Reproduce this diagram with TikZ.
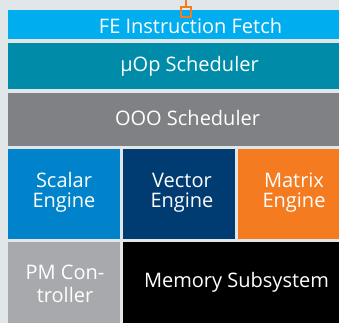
\documentclass[tikz,border=0pt]{standalone}
\usepackage{fontspec}
\setmainfont{Open Sans}
\definecolor{bgc}{HTML}{E1E6E9}
\definecolor{fec}{HTML}{00AEEF}
\definecolor{uopc}{HTML}{008CA8}
\definecolor{oooc}{HTML}{808184}
\definecolor{scalc}{HTML}{0083CA}
\definecolor{vecc}{HTML}{003C71}
\definecolor{matc}{HTML}{F47B20}
\definecolor{pmc}{HTML}{A7A9AC}
\definecolor{orc}{HTML}{F47B20}
\tikzset{
  blk/.style={draw=none, inner sep=0pt, outer sep=0pt},
  txt/.style={inner sep=0pt, text=white, align=center, anchor=base,
    font=\fontsize{20}{20.5}\selectfont},
}
\begin{document}
\begin{tikzpicture}[x=1pt,y=-1pt]
\useasboundingbox (0,0) rectangle (339,322);
\clip (0,0) rectangle (339,322);
\fill[bgc] (-1,-1) rectangle (340,323);
% blocks
\node[blk, fill=fec, minimum width=362pt, minimum height=29.3pt] (fe) at (189,24.65) {};
\node[blk, fill=uopc, minimum width=362pt, minimum height=46.6pt] (uop) at (189,66) {};
\node[blk, fill=oooc, minimum width=362pt, minimum height=52.6pt] (ooo) at (189,119.3) {};
\node[blk, fill=scalc, minimum width=112pt, minimum height=89.7pt] (scal) at (64,193.85) {};
\node[blk, fill=vecc, minimum width=112pt, minimum height=89.7pt] (vec) at (179,193.85) {};
\node[blk, fill=matc, minimum width=112pt, minimum height=89.7pt] (mat) at (294,193.85) {};
\node[blk, fill=pmc, minimum width=112pt, minimum height=82pt] (pm) at (64,283) {};
\node[blk, fill=black, minimum width=227pt, minimum height=82pt] (mem) at (236.5,283) {};
% texts
\node[txt] (tfe) at (190.5,33.6) {FE Instruction Fetch};
\node[txt] (tuop) at (189.5,71.2) {µOp Scheduler};
\node[txt] (tooo) at (187.5,125) {OOO Scheduler};
\node[txt] (tscal) at (64,207.5) {Scalar\\Engine};
\node[txt] (tvec) at (182,207.5) {Vector\\Engine};
\node[txt] (tmat) at (294,207.5) {Matrix\\Engine};
\node[txt, font=\fontsize{20}{23}\selectfont] (tpm) at (65,302.3) {PM Con-\\troller};
\node[txt] (tmem) at (236.5,287.3) {Memory Subsystem};
% probe
\node[draw=orc, line width=2pt, minimum size=10pt, inner sep=0pt] (sq) at (185.5,11.5) {};
\coordinate (top) at (186,-1);
\draw[orc, line width=2pt] (top) -- (sq.north -| top);
\end{tikzpicture}
\end{document}
